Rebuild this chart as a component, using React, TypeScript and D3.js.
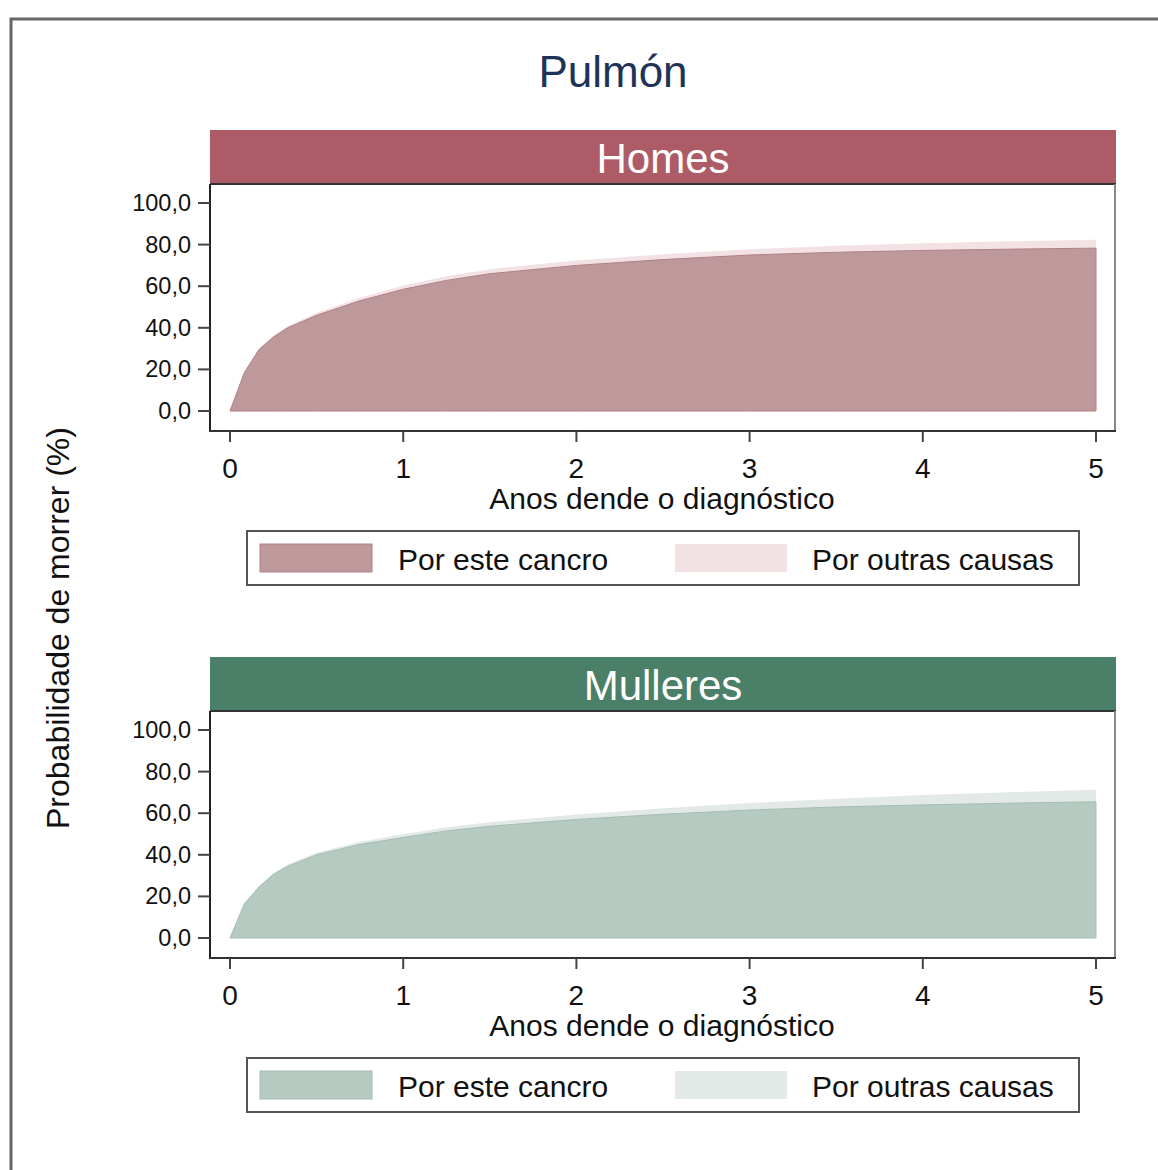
import React from "react";
import * as d3 from "d3";

const years = [0, 0.083, 0.167, 0.25, 0.333, 0.5, 0.75, 1, 1.25, 1.5, 2, 2.5, 3, 3.5, 4, 4.5, 5];
const homesCancro = [0, 18.5, 29.5, 35.5, 40, 46, 53, 58.5, 62.8, 66, 70, 72.8, 75, 76.3, 77.2, 77.8, 78.3];
const homesOutras = [0, 0.3, 0.5, 0.7, 0.9, 1.2, 1.5, 1.8, 2.0, 2.2, 2.4, 2.6, 2.8, 3.2, 3.5, 3.8, 4.0];
const mullCancro = [0, 16.5, 24.5, 30.5, 34.5, 40, 45, 48.3, 51.5, 53.7, 57, 59.5, 61.5, 63, 64, 64.8, 65.5];
const mullOutras = [0, 0.2, 0.4, 0.6, 0.8, 1.0, 1.3, 1.6, 1.8, 2.0, 2.4, 2.9, 3.4, 4.0, 4.7, 5.3, 5.8];

const yTicks = [0, 20, 40, 60, 80, 100];
const xTicks = [0, 1, 2, 3, 4, 5];
const legendLabels = ["Por este cancro", "Por outras causas"];

const FONT = "'Liberation Sans', Arial, sans-serif";

type PanelProps = {
  top: number;
  label: string;
  headerColor: string;
  cancro: number[];
  outras: number[];
  fillCancro: string;
  strokeCancro: string;
  fillOutras: string;
};

function Panel({ top, label, headerColor, cancro, outras, fillCancro, strokeCancro, fillOutras }: PanelProps) {
  const left = 210;
  const right = 1116;
  const headerH = 54;
  const plotTop = top + headerH;
  const plotBottom = plotTop + 247;
  const x = d3.scaleLinear().domain([0, 5]).range([230, 1096]);
  const y = d3.scaleLinear().domain([0, 100]).range([plotTop + 227, plotTop + 19]);

  const pts = years.map((t, i) => ({ t, c: cancro[i], o: cancro[i] + outras[i] }));
  const areaTotal = d3.area<any>().x((d) => x(d.t)).y0(y(0)).y1((d) => y(d.o));
  const areaCancro = d3.area<any>().x((d) => x(d.t)).y0(y(0)).y1((d) => y(d.c));

  const legTop = plotBottom + 100;
  return (
    <g>
      <rect x={left} y={top} width={right - left} height={headerH} fill={headerColor} />
      <text x={(left + right) / 2} y={top + headerH / 2 + 1} textAnchor="middle" dominantBaseline="central" fill="#fff" fontSize={42} fontFamily={FONT}>{label}</text>
      <rect x={left} y={plotTop} width={right - left - 1} height={plotBottom - plotTop} fill="#fff" stroke="none" />
      <path d={areaTotal(pts) as string} fill={fillOutras} />
      <path d={areaCancro(pts) as string} fill={fillCancro} stroke={strokeCancro} strokeWidth={1} />
      <line x1={left} x2={right} y1={plotTop} y2={plotTop} stroke="#333" strokeWidth={2} />
      <line x1={right - 1} x2={right - 1} y1={plotTop} y2={plotBottom} stroke="#888" strokeWidth={2} />
      <line x1={left} x2={left} y1={plotTop} y2={plotBottom + 1} stroke="#222" strokeWidth={2} />
      <line x1={left - 1} x2={right} y1={plotBottom} y2={plotBottom} stroke="#333" strokeWidth={2} />
      {yTicks.map((v) => (
        <g key={v}>
          <line x1={198} x2={left} y1={y(v)} y2={y(v)} stroke="#444" strokeWidth={2} />
          <text x={191} y={y(v)} textAnchor="end" dominantBaseline="central" fontSize={23.5} fontFamily={FONT} fill="#111">{d3.format(".1f")(v).replace(".", ",")}</text>
        </g>
      ))}
      {xTicks.map((v) => (
        <g key={v}>
          <line x1={x(v)} x2={x(v)} y1={plotBottom} y2={plotBottom + 11} stroke="#444" strokeWidth={2} />
          <text x={x(v)} y={plotBottom + 37} textAnchor="middle" dominantBaseline="central" fontSize={28} fontFamily={FONT} fill="#111">{v}</text>
        </g>
      ))}
      <text x={662} y={plotBottom + 67} textAnchor="middle" dominantBaseline="central" fontSize={30} fontFamily={FONT} fill="#111">Anos dende o diagnóstico</text>
      <rect x={247} y={legTop} width={832} height={54} fill="#fff" stroke="#555" strokeWidth={2} />
      <rect x={260} y={legTop + 13} width={112} height={28} fill={fillCancro} stroke={strokeCancro} strokeWidth={1} />
      <text x={398} y={legTop + 28} dominantBaseline="central" fontSize={30} fontFamily={FONT} fill="#111">{legendLabels[0]}</text>
      <rect x={675} y={legTop + 13} width={112} height={28} fill={fillOutras} />
      <text x={812} y={legTop + 28} dominantBaseline="central" fontSize={30} fontFamily={FONT} fill="#111">{legendLabels[1]}</text>
    </g>
  );
}

export default function App() {
  return (
    <svg width={1158} height={1170} style={{ position: "absolute", left: 0, top: 0, background: "#fff" }}>
      <rect x={0} y={0} width={1158} height={1170} fill="#fff" />
      <rect x={11} y={19} width={1200} height={1200} fill="none" stroke="#666" strokeWidth={3} />
      <text x={613} y={71} textAnchor="middle" dominantBaseline="central" fontSize={44} fontFamily={FONT} fill="#1e3456">Pulmón</text>
      <text transform="translate(58,628) rotate(-90)" textAnchor="middle" dominantBaseline="central" fontSize={32} fontFamily={FONT} fill="#111">Probabilidade de morrer (%)</text>
      <Panel top={130} label="Homes" headerColor="#ad5c67" cancro={homesCancro} outras={homesOutras} fillCancro="#bd999c" strokeCancro="#b08088" fillOutras="#f2e2e4" />
      <Panel top={657} label="Mulleres" headerColor="#4a7f68" cancro={mullCancro} outras={mullOutras} fillCancro="#b5cbc1" strokeCancro="#a5bdb2" fillOutras="#e2e9e6" />
    </svg>
  );
}
